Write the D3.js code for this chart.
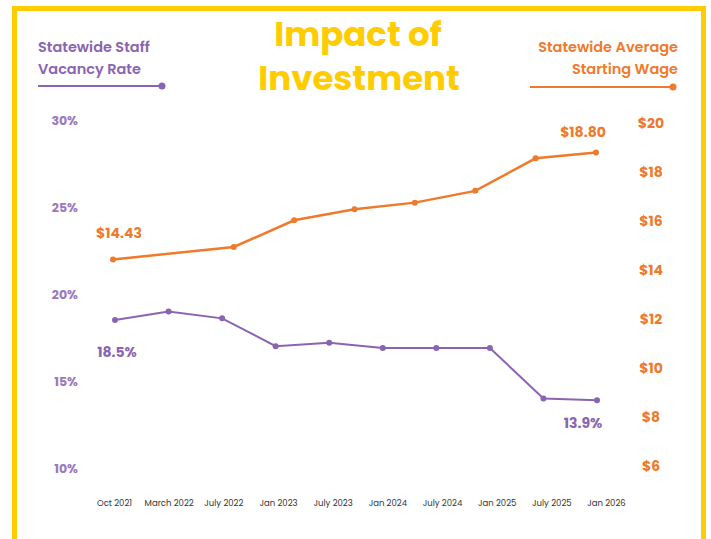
<!DOCTYPE html>
<html>
<head>
<meta charset="utf-8">
<script src="https://cdn.jsdelivr.net/npm/d3@7"></script>
<style>
  body { margin: 0; background: #fff; }
  text { font-family: Poppins, Inter, sans-serif; }
</style>
</head>
<body>
<div id="chart"></div>
<script>
// x labels (vacancy series uses all of them)
var periods = ["Oct 2021", "March 2022", "July 2022", "Jan 2023", "July 2023",
               "Jan 2024", "July 2024", "Jan 2025", "July 2025", "Jan 2026"];
var vacancy = [18.5, 19.0, 18.6, 17.0, 17.2, 16.9, 16.9, 16.9, 14.0, 13.9];

// wage series sits on its own 9 slots, second slot has no value
var wageSlots = [0, 1, 2, 3, 4, 5, 6, 7, 8];
var wage = [14.43, null, 14.94, 16.03, 16.48, 16.75, 17.23, 18.56, 18.80];

var vacancyTicks = [10, 15, 20, 25, 30];
var wageTicks = [6, 8, 10, 12, 14, 16, 18, 20];

var width = 711,
    height = 539,
    purple = "#8b64b1",
    purpleLight = "#9a78bd",
    orange = "#ef7a2b",
    gold = "#ffcc00";

var svg = d3.select("#chart")
    .append("svg")
    .attr("width", width)
    .attr("height", height);

// gold frame (open at the bottom)
svg.append("path")
    .attr("d", "M14.5,539 V8.5 H703.5 V539")
    .attr("fill", "none")
    .attr("stroke", gold)
    .attr("stroke-width", 5);

var xLabel = d3.scalePoint().domain(periods).range([114, 606]);
var xVac = d3.scalePoint().domain(periods).range([115, 597]);
var xWage = d3.scalePoint().domain(wageSlots).range([113, 596]);

var yVac = d3.scaleLinear().domain([10, 30]).range([468, 120]);
var yWage = d3.scaleLinear().domain([6, 20]).range([466, 123]);

// title
var title = svg.append("g").attr("fill", gold)
    .attr("text-anchor", "middle")
    .style("font-weight", "700")
    .style("font-size", "34px");
title.append("text").attr("x", 358).attr("y", 46).text("Impact of");
title.append("text").attr("x", 359).attr("y", 90).text("Investment");

// left legend
var legL = svg.append("g").attr("fill", purple)
    .style("font-weight", "600").style("font-size", "14.5px");
legL.append("text").attr("x", 38).attr("y", 52).text("Statewide Staff");
legL.append("text").attr("x", 38).attr("y", 74).text("Vacancy Rate");
legL.append("line").attr("x1", 38).attr("x2", 162).attr("y1", 86).attr("y2", 86)
    .attr("stroke", purple).attr("stroke-width", 2);
legL.append("circle").attr("cx", 162).attr("cy", 86).attr("r", 3.5);

// right legend
var legR = svg.append("g").attr("fill", orange)
    .attr("text-anchor", "end")
    .style("font-weight", "600").style("font-size", "14.5px");
legR.append("text").attr("x", 678).attr("y", 52).text("Statewide Average");
legR.append("text").attr("x", 678).attr("y", 74).text("Starting Wage");
legR.append("line").attr("x1", 530).attr("x2", 673).attr("y1", 87).attr("y2", 87)
    .attr("stroke", orange).attr("stroke-width", 2);
legR.append("circle").attr("cx", 673).attr("cy", 87).attr("r", 3.5);

// left axis
var axL = svg.append("g")
    .attr("transform", "translate(78,0)")
    .call(d3.axisLeft(yVac).tickValues(vacancyTicks)
        .tickFormat(function (d) { return d + "%"; }).tickSize(0).tickPadding(0));
axL.select(".domain").remove();
axL.selectAll("text")
    .attr("fill", purpleLight)
    .style("font-family", "Poppins, Inter, sans-serif")
    .style("font-weight", "700").style("font-size", "12.5px");

// right axis
var axR = svg.append("g")
    .attr("transform", "translate(651,0)")
    .call(d3.axisRight(yWage).tickValues(wageTicks)
        .tickFormat(function (d) { return "$" + d; }).tickSize(0).tickPadding(0));
axR.select(".domain").remove();
axR.selectAll("text")
    .attr("text-anchor", "middle")
    .attr("fill", orange)
    .style("font-family", "Poppins, Inter, sans-serif")
    .style("font-weight", "700").style("font-size", "14px");

// bottom labels
var axB = svg.append("g")
    .attr("transform", "translate(0,500)")
    .call(d3.axisBottom(xLabel).tickSize(0).tickPadding(0));
axB.select(".domain").remove();
axB.selectAll("text")
    .attr("fill", "#333")
    .style("font-family", "Poppins, Inter, sans-serif")
    .style("font-size", "8.5px");

// wage line
var wageData = wageSlots.map(function (s, i) { return {slot: s, v: wage[i]}; })
    .filter(function (d) { return d.v !== null; });

var wageLine = d3.line()
    .x(function (d) { return xWage(d.slot); })
    .y(function (d) { return yWage(d.v); });

svg.append("path")
    .datum(wageData)
    .attr("d", wageLine)
    .attr("fill", "none")
    .attr("stroke", orange)
    .attr("stroke-width", 2.5);

svg.selectAll(".wage-dot")
    .data(wageData)
    .enter().append("circle")
    .attr("class", "wage-dot")
    .attr("cx", function (d) { return xWage(d.slot); })
    .attr("cy", function (d) { return yWage(d.v); })
    .attr("r", 3)
    .attr("fill", orange);

// vacancy line
var vacData = periods.map(function (p, i) { return {p: p, v: vacancy[i]}; });

var vacLine = d3.line()
    .x(function (d) { return xVac(d.p); })
    .y(function (d) { return yVac(d.v); });

svg.append("path")
    .datum(vacData)
    .attr("d", vacLine)
    .attr("fill", "none")
    .attr("stroke", purple)
    .attr("stroke-width", 2);

svg.selectAll(".vac-dot")
    .data(vacData)
    .enter().append("circle")
    .attr("class", "vac-dot")
    .attr("cx", function (d) { return xVac(d.p); })
    .attr("cy", function (d) { return yVac(d.v); })
    .attr("r", 3)
    .attr("fill", purple);

// end value labels
var first = wageData[0], last = wageData[wageData.length - 1];
var vals = svg.append("g")
    .attr("text-anchor", "middle")
    .style("font-weight", "700").style("font-size", "14px");
vals.append("text").attr("fill", orange)
    .attr("x", xWage(first.slot) + 6).attr("y", yWage(first.v) - 21)
    .text("$" + first.v.toFixed(2));
vals.append("text").attr("fill", orange)
    .attr("x", xWage(last.slot) - 13).attr("y", yWage(last.v) - 15)
    .text("$" + last.v.toFixed(2));
vals.append("text").attr("fill", purple)
    .attr("x", xVac(periods[0]) + 2).attr("y", yVac(vacancy[0]) + 37)
    .text(vacancy[0].toFixed(1) + "%");
vals.append("text").attr("fill", purple)
    .attr("x", xVac(periods[periods.length - 1]) - 14).attr("y", yVac(vacancy[vacancy.length - 1]) + 28)
    .text(vacancy[vacancy.length - 1].toFixed(1) + "%");
</script>
</body>
</html>
